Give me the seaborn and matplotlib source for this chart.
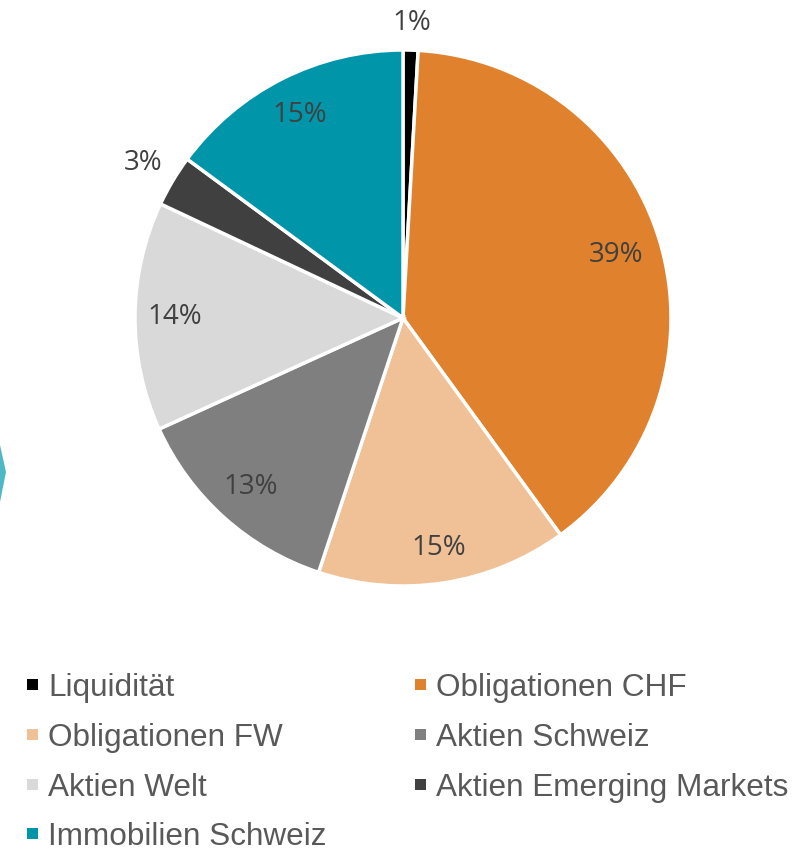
import matplotlib
matplotlib.use("Agg")
import matplotlib.pyplot as plt
import seaborn as sns
import numpy as np
from matplotlib.patches import Rectangle, Polygon

categories = ["Liquidität", "Obligationen CHF", "Obligationen FW", "Aktien Schweiz",
              "Aktien Welt", "Aktien Emerging Markets", "Immobilien Schweiz"]
values = [0.9, 39.1, 15.1, 13.1, 13.8, 3.1, 14.9]
colors = ["#000000", "#E0822D", "#F0C196", "#7F7F7F", "#D9D9D9", "#404040", "#0095A8"]
label_radius = [1.10, 0.83, 0.87, 0.85, 0.85, 1.13, 0.85]

sns.set_theme(style="white")
plt.rcParams["font.family"] = ["Liberation Sans", "DejaVu Sans"]

W, H = 798, 852
dpi = 100
fig = plt.figure(figsize=(W / dpi, H / dpi), dpi=dpi)
fig.patch.set_facecolor("white")

cx, cy, r = 403, 318, 268
ax = fig.add_axes([(cx - r) / W, (H - cy - r) / H, 2 * r / W, 2 * r / H])
wedges, _ = ax.pie(values, colors=colors, startangle=90, counterclock=False,
                   wedgeprops=dict(edgecolor="white", linewidth=2.5))
ax.set_xlim(-1, 1)
ax.set_ylim(-1, 1)
ax.set_aspect("equal")
ax.axis("off")

total = sum(values)
for w, v, lr in zip(wedges, values, label_radius):
    ang = np.deg2rad((w.theta1 + w.theta2) / 2)
    ax.text(lr * np.cos(ang), lr * np.sin(ang), f"{round(v / total * 100)}%",
            ha="center", va="center", fontsize=20, color="#404040",
            family=["Open Sans", "DejaVu Sans"])

# legend (row-wise, two columns)
col_x = [27, 415]
row_base = [696, 746, 796, 845]
for i, (cat, col) in enumerate(zip(categories, colors)):
    row, c = divmod(i, 2)
    x0 = col_x[c]
    yb = row_base[row]
    fig.patches.append(Rectangle((x0 / W, 1 - (yb - 6) / H), 11 / W, 11 / H,
                                 transform=fig.transFigure, facecolor=col,
                                 edgecolor="none"))
    fig.text((x0 + 21) / W, 1 - yb / H, cat, ha="left", va="baseline",
             fontsize=22.7, color="#595959")

# decorative shape at left edge
pts = [(0, 445), (6, 472), (0, 502)]
fig.patches.append(Polygon([(x / W, 1 - y / H) for x, y in pts], closed=True,
                           transform=fig.transFigure, facecolor="#4FB8C5",
                           edgecolor="none"))

fig.savefig("out.png", dpi=dpi, facecolor="white")
